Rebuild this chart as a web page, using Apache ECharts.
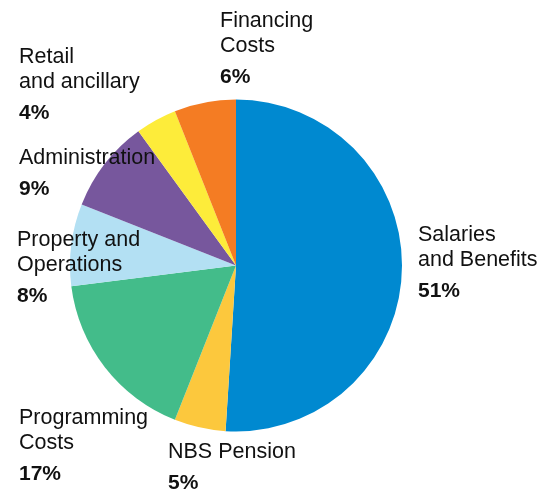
<!DOCTYPE html>
<html>
<head>
<meta charset="utf-8">
<script src="https://cdn.jsdelivr.net/npm/echarts@6/dist/echarts.min.js"></script>
<style>
  html, body { margin: 0; padding: 0; background: #fff; }
  #chart { width: 541px; height: 491px; }
</style>
</head>
<body>
<div id="chart"></div>
<script>
// slice names (clockwise from 12 o'clock) and their shares in %
const categories = [
  'Salaries\nand Benefits',
  'NBS Pension',
  'Programming\nCosts',
  'Property and\nOperations',
  'Administration',
  'Retail\nand ancillary',
  'Financing\nCosts'
]
const values = [51, 5, 17, 8, 9, 4, 6]
const colors = ['#0089d0', '#fcc83d', '#43bc8a', '#b3e0f3', '#77579d', '#fdec3a', '#f47c23']

// top-left corner of each label block
const labelPos = [
  [418, 223], [168, 440], [19, 406], [17, 228], [19, 146], [19, 45], [220, 9]
]

const chart = echarts.init(document.getElementById('chart'))

chart.setOption({
  animation: false,
  series: [{
    type: 'pie',
    center: [236, 265.5],
    radius: [0, 166],
    startAngle: 90,
    clockwise: true,
    silent: true,
    label: {
      show: true,
      overflow: 'none',
      formatter: p => `{n|${p.name}}\n{v|${p.value}%}`,
      rich: {
        n: { fontFamily: 'Liberation Sans', fontSize: 21.5, lineHeight: 25, color: '#111' },
        v: { fontFamily: 'Liberation Sans', fontSize: 21, fontWeight: 'bold', lineHeight: 37, color: '#111' }
      }
    },
    labelLine: { show: false },
    labelLayout: p => ({
      x: labelPos[p.dataIndex][0],
      y: labelPos[p.dataIndex][1],
      align: 'left',
      verticalAlign: 'top'
    }),
    data: categories.map((name, i) => ({
      name,
      value: values[i],
      itemStyle: { color: colors[i] }
    }))
  }]
})
</script>
</body>
</html>
